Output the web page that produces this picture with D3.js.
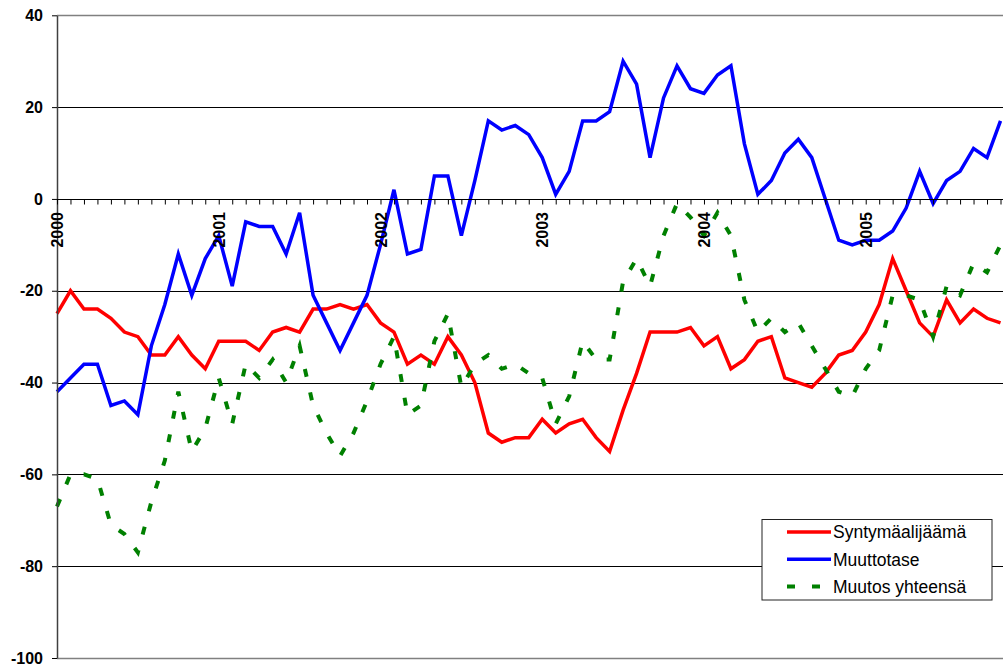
<!DOCTYPE html>
<html>
<head>
<meta charset="utf-8">
<script src="https://cdn.jsdelivr.net/npm/d3@7/dist/d3.min.js"></script>
<style>
body { margin: 0; background: #fff; }
text { font-family: "Liberation Sans", Arial, sans-serif; }
</style>
</head>
<body>
<div id="chart"></div>
<script>
// monthly categories 2000-01 .. 2005-11
var years = ["2000", "2001", "2002", "2003", "2004", "2005"];
var monthNames = ["01","02","03","04","05","06","07","08","09","10","11","12"];
var categories = [];
years.forEach(function(yr) {
  monthNames.forEach(function(m) { categories.push(yr + "-" + m); });
});
categories = categories.slice(0, 71);

var yTicks = [-100, -80, -60, -40, -20, 0, 20, 40];

var syntymaalijaama = [-25, -20, -24, -24, -26, -29, -30, -34, -34, -30, -34, -37,
  -31, -31, -31, -33, -29, -28, -29, -24, -24, -23, -24, -23,
  -27, -29, -36, -34, -36, -30, -34, -40, -51, -53, -52, -52,
  -48, -51, -49, -48, -52, -55, -46, -38, -29, -29, -29, -28,
  -32, -30, -37, -35, -31, -30, -39, -40, -41, -38, -34, -33,
  -29, -23, -13, -20, -27, -30, -22, -27, -24, -26, -27];

var muuttotase = [-42, -39, -36, -36, -45, -44, -47, -32, -23, -12, -21, -13,
  -8, -19, -5, -6, -6, -12, -3, -21, -27, -33, -27, -21,
  -10, 2, -12, -11, 5, 5, -8, 4, 17, 15, 16, 14,
  9, 1, 6, 17, 17, 19, 30, 25, 9, 22, 29, 24,
  23, 27, 29, 12, 1, 4, 10, 13, 9, 0, -9, -10,
  -9, -9, -7, -2, 6, -1, 4, 6, 11, 9, 17];

var muutosYhteensa = [-67, -60, -60, -61, -71, -73, -77, -66, -57, -42, -55, -50,
  -39, -49, -36, -39, -35, -40, -32, -45, -51, -56, -51, -44,
  -36, -30, -47, -45, -31, -25, -41, -36, -34, -37, -36, -38,
  -39, -49, -43, -31, -35, -35, -18, -13, -19, -8, -1, -4,
  -8, -3, -8, -22, -29, -26, -29, -27, -32, -37, -42, -43,
  -37, -33, -21, -21, -22, -30, -19, -21, -14, -16, -10];

var seriesNames = ["Syntymäalijäämä", "Muuttotase", "Muutos yhteensä"];
var seriesColors = ["#FF0000", "#0000FF", "#008000"];

var width = 1003, height = 666;
var plotLeft = 57, plotRight = 1000.5, plotTop = 15.3, plotBottom = 658;

var svg = d3.select("#chart")
  .append("svg")
  .attr("width", width)
  .attr("height", height);

var x = d3.scalePoint().domain(categories).range([plotLeft, plotRight]).padding(0);
var y = d3.scaleLinear().domain([-100, 40]).range([plotBottom, plotTop]);

// gridlines
svg.append("g")
  .selectAll("line")
  .data(yTicks)
  .enter()
  .append("line")
  .attr("x1", plotLeft)
  .attr("x2", width)
  .attr("y1", function(d) { return Math.round(y(d)) + 0.5; })
  .attr("y2", function(d) { return Math.round(y(d)) + 0.5; })
  .attr("stroke", function(d) { return (d == 40 || d == -100) ? "#808080" : "#000"; })
  .attr("stroke-width", function(d) { return (d == 40 || d == -100) ? 1.5 : 1; });

var linePath = d3.line()
  .x(function(d, i) { return x(categories[i]); })
  .y(function(d) { return y(d); });

var plot = svg.append("g");
var allSeries = [syntymaalijaama, muuttotase, muutosYhteensa];
allSeries.forEach(function(s, k) {
  plot.append("path")
    .attr("d", linePath(s))
    .attr("fill", "none")
    .attr("stroke", seriesColors[k])
    .attr("stroke-width", k == 2 ? 4 : 3.5)
    .attr("stroke-linejoin", "miter")
    .attr("stroke-dasharray", k == 2 ? "8,16" : null);
});

// y axis
var yAxis = svg.append("g")
  .attr("transform", "translate(" + plotLeft + ",0)")
  .call(d3.axisLeft(y).tickValues(yTicks).tickSize(5).tickPadding(9).tickSizeOuter(0)
    .tickFormat(function(d) { return String(d); }));
yAxis.select(".domain").attr("stroke", "#404040").attr("stroke-width", 1.5);
yAxis.selectAll(".tick line").attr("stroke", "#000");
yAxis.selectAll("text")
  .attr("fill", "#000")
  .style("font-size", "16px")
  .style("font-weight", "bold");

// x axis at zero, year labels on top of the lines
var xAxis = svg.append("g")
  .attr("transform", "translate(0," + (Math.round(y(0)) + 0.5) + ")")
  .call(d3.axisBottom(x)
    .tickSize(5)
    .tickSizeOuter(0)
    .tickFormat(function(d) { return d.slice(5) == "01" ? d.slice(0, 4) : ""; }));
xAxis.select(".domain").remove();
xAxis.selectAll(".tick line").attr("stroke", "#000");
xAxis.append("line")
  .attr("x1", plotLeft).attr("x2", width)
  .attr("stroke", "#000");
xAxis.selectAll("text")
  .attr("fill", "#000")
  .attr("text-anchor", "end")
  .attr("x", -12.5)
  .attr("y", 0)
  .attr("dy", "0.35em")
  .attr("transform", "rotate(-90)")
  .style("font-size", "16px")
  .style("font-weight", "bold");

// legend
var legend = svg.append("g").attr("transform", "translate(762,519.5)");
legend.append("rect")
  .attr("width", 230)
  .attr("height", 80.5)
  .attr("fill", "#fff")
  .attr("stroke", "#222")
  .attr("stroke-width", 1);
seriesNames.forEach(function(name, k) {
  var ly = 12.5 + k * 27.2;
  legend.append("line")
    .attr("x1", 25).attr("x2", 69)
    .attr("y1", ly).attr("y2", ly)
    .attr("stroke", seriesColors[k])
    .attr("stroke-width", k == 2 ? 4 : 3.5)
    .attr("stroke-dasharray", k == 2 ? "8,17" : null);
  legend.append("text")
    .attr("x", 71)
    .attr("y", ly)
    .attr("dy", "0.36em")
    .style("font-size", "17.5px")
    .attr("fill", "#000")
    .text(name);
});
</script>
</body>
</html>
